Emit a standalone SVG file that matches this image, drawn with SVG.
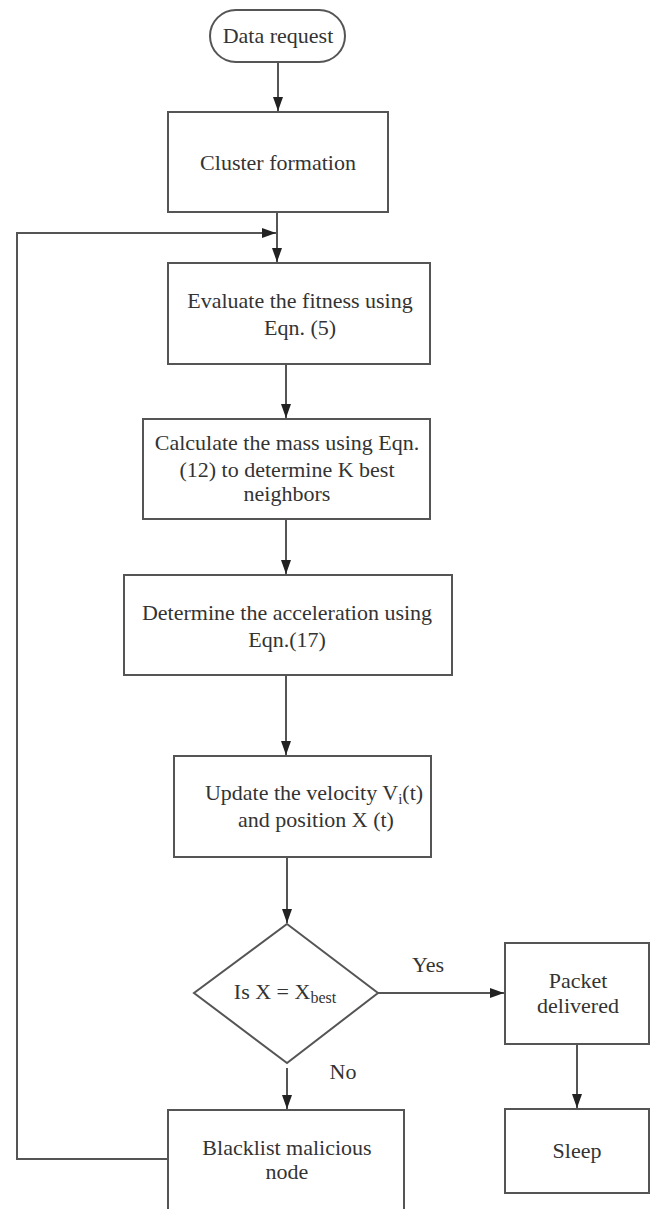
<svg xmlns="http://www.w3.org/2000/svg" width="651" height="1209" viewBox="0 0 651 1209">
<style>
.box{fill:#fff;stroke:#555;stroke-width:2}
.t{font-family:"Liberation Serif","Times New Roman",serif;font-size:22px;fill:#333;text-anchor:middle}
.c{fill:none;stroke:#555;stroke-width:2}
</style>
<defs>
<marker id="ah" viewBox="0 0 14 10" refX="14" refY="5" markerWidth="14" markerHeight="10" markerUnits="userSpaceOnUse" orient="auto">
<path d="M0,0 L14,5 L0,10 Z" fill="#222"/>
</marker>
</defs>
<rect width="651" height="1209" fill="#fff"/>
<g id="connectors">
<line class="c" x1="278" y1="62" x2="278" y2="111" marker-end="url(#ah)"/>
<line class="c" x1="277" y1="212" x2="277" y2="262" marker-end="url(#ah)"/>
<polyline class="c" points="168,1159 17,1159 17,233 276,233" marker-end="url(#ah)"/>
<line class="c" x1="286" y1="364" x2="286" y2="418" marker-end="url(#ah)"/>
<line class="c" x1="286" y1="519" x2="286" y2="574" marker-end="url(#ah)"/>
<line class="c" x1="286" y1="675" x2="286" y2="755" marker-end="url(#ah)"/>
<line class="c" x1="287" y1="857" x2="287" y2="923" marker-end="url(#ah)"/>
<line class="c" x1="378" y1="993" x2="504" y2="993" marker-end="url(#ah)"/>
<line class="c" x1="577" y1="1044" x2="577" y2="1108" marker-end="url(#ah)"/>
<line class="c" x1="287" y1="1068" x2="287" y2="1109" marker-end="url(#ah)"/>
<text class="t" x="428" y="972">Yes</text>
<text class="t" x="343" y="1079">No</text>
</g>
<g id="start">
<rect class="box" x="210" y="10" width="135" height="52" rx="26"/>
<text class="t" x="278" y="43">Data request</text>
</g>
<g id="cluster">
<rect class="box" x="168" y="112" width="220" height="100"/>
<text class="t" x="278" y="170">Cluster formation</text>
</g>
<g id="evaluate">
<rect class="box" x="168" y="263" width="262" height="101"/>
<text class="t" x="300" y="308">Evaluate the fitness using</text>
<text class="t" x="300" y="335">Eqn. (5)</text>
</g>
<g id="mass">
<rect class="box" x="143" y="419" width="287" height="100"/>
<text class="t" x="287" y="450">Calculate the mass using Eqn.</text>
<text class="t" x="287" y="477">(12) to determine K best</text>
<text class="t" x="287" y="501">neighbors</text>
</g>
<g id="acceleration">
<rect class="box" x="124" y="575" width="328" height="100"/>
<text class="t" x="287" y="620">Determine the acceleration using</text>
<text class="t" x="287" y="647">Eqn.(17)</text>
</g>
<g id="update">
<rect class="box" x="174" y="756" width="257" height="101"/>
<text class="t" x="314" y="800">Update the velocity  V<tspan font-size="15" dy="4">i</tspan><tspan dy="-4">(t)</tspan></text>
<text class="t" x="316" y="827">and position  X (t)</text>
</g>
<g id="decision">
<polygon class="box" points="287,924 378,993 287,1063 194,993"/>
<text class="t" x="285" y="999">Is X = X<tspan font-size="16" dy="4">best</tspan></text>
</g>
<g id="packet">
<rect class="box" x="505" y="943" width="144" height="101"/>
<text class="t" x="578" y="988">Packet</text>
<text class="t" x="578" y="1013">delivered</text>
</g>
<g id="sleep">
<rect class="box" x="505" y="1109" width="144" height="84"/>
<text class="t" x="577" y="1158">Sleep</text>
</g>
<g id="blacklist">
<path class="box" d="M168,1215 L168,1110 L404,1110 L404,1215"/>
<text class="t" x="287" y="1155">Blacklist malicious</text>
<text class="t" x="287" y="1179">node</text>
</g>
</svg>
